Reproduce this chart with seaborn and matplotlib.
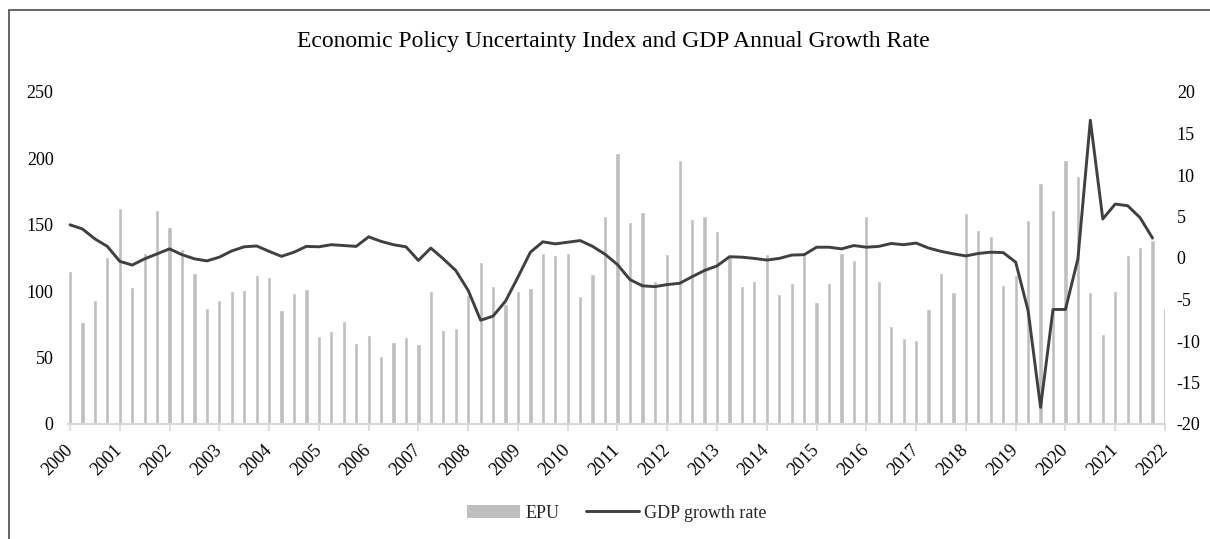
import numpy as np
import pandas as pd
import matplotlib
matplotlib.use("Agg")
import matplotlib.pyplot as plt
import matplotlib.patches as mpatches
import matplotlib.transforms as mtransforms
from matplotlib.lines import Line2D
import seaborn as sns

# Quarterly periods, 2000Q1 .. 2022Q1
quarters = pd.period_range("2000Q1", "2022Q1", freq="Q").astype(str).tolist()

# Economic Policy Uncertainty index, one value per quarter
epu = [
    115, 76.5, 93, 126,
    163, 103, 129, 161,
    148, 132, 114, 87.5,
    93, 100, 101, 112.5,
    111, 85.5, 98.5, 102,
    66.5, 70, 77.5, 61,
    67, 51, 62, 65.5,
    60, 100, 70.5, 72,
    97.5, 122, 104, 90,
    100, 102.5, 129, 127,
    129, 96.5, 113, 157,
    204, 152, 160, 108,
    128, 199, 154.5, 156.5,
    145, 126, 104, 108,
    128, 98, 106, 127,
    92, 106, 128.5, 123.5,
    157, 108, 74, 65,
    63.5, 86.5, 114, 99.5,
    159, 146, 141.5, 104.5,
    112, 153.5, 181.5, 161,
    199, 187, 99.5, 68,
    100.5, 127.5, 133, 138.5,
    87,
]

# GDP annual growth rate (%), 2000Q1 .. 2021Q4
gdp = [
    4.0, 3.5, 2.3, 1.4,
    -0.4, -0.85, -0.1, 0.5,
    1.1, 0.4, -0.1, -0.35,
    0.1, 0.85, 1.35, 1.45,
    0.8, 0.2, 0.7, 1.4,
    1.35, 1.6, 1.5, 1.4,
    2.55, 2.0, 1.6, 1.35,
    -0.3, 1.2, -0.1, -1.5,
    -3.9, -7.5, -7.0, -5.2,
    -2.3, 0.7, 1.95, 1.7,
    1.9, 2.1, 1.4, 0.45,
    -0.8, -2.6, -3.35, -3.45,
    -3.2, -3.05, -2.25, -1.5,
    -0.95, 0.15, 0.1, -0.05,
    -0.25, -0.05, 0.35, 0.4,
    1.3, 1.3, 1.1, 1.5,
    1.3, 1.4, 1.75, 1.6,
    1.8, 1.2, 0.8, 0.5,
    0.25, 0.55, 0.7, 0.65,
    -0.5, -6.35, -18.0, -6.2,
    -6.2, -0.1, 16.6, 4.7,
    6.5, 6.3, 4.85, 2.4,
]

year_labels = [str(y) for y in range(2000, 2023)]
left_ticks = [0, 50, 100, 150, 200, 250]
right_ticks = [-20, -15, -10, -5, 0, 5, 10, 15, 20]

title = "Economic Policy Uncertainty Index and GDP Annual Growth Rate"

BAR = "#bfbfbf"
LINE = "#404040"
AXIS = "#d9d9d9"
TEXT = "#000000"

sns.set_theme(style="white")
plt.rcParams["font.family"] = ["Liberation Serif", "DejaVu Serif"]
plt.rcParams["axes.unicode_minus"] = False

df_epu = pd.DataFrame({"quarter": quarters, "t": np.arange(len(epu)), "EPU": epu})
df_gdp = pd.DataFrame({"quarter": quarters[:len(gdp)], "t": np.arange(len(gdp)), "GDP": gdp})

W, H = 1210, 539
fig = plt.figure(figsize=(W / 100, H / 100), dpi=100)

x0_px, xend_px = 70.0, 1165.0
unit = (xend_px - x0_px) / (len(epu) - 1)
xmin = -0.15
left_px = x0_px + xmin * unit
base_px, top_px = 424.0, 92.0
ax = fig.add_axes([left_px / W, 1 - base_px / H,
                   (xend_px - left_px) / W, (base_px - top_px) / H])

sns.barplot(data=df_epu, x="t", y="EPU", native_scale=True, width=0.34,
            color=BAR, saturation=1, errorbar=None, ax=ax, zorder=2)

ax2 = ax.twinx()
sns.lineplot(data=df_gdp, x="t", y="GDP", color=LINE, linewidth=2.1, ax=ax2)

ax.set_xlim(xmin, len(epu) - 1)
ax.set_ylim(0, 250)
ax2.set_ylim(-20, 20)

ax.set_xticks(np.arange(0, len(epu), 4))
ax.set_xticklabels(year_labels, rotation=45, ha="right", va="center",
                   rotation_mode="anchor", fontsize=13, color=TEXT)
shift = mtransforms.ScaledTranslation(3 / 100, 0, fig.dpi_scale_trans)
for lab in ax.get_xticklabels():
    lab.set_transform(lab.get_transform() + shift)
ax.set_yticks(left_ticks)
ax.set_yticklabels([str(v) for v in left_ticks], fontsize=13, color=TEXT)
ax2.set_yticks(right_ticks)
ax2.set_yticklabels([str(v) for v in right_ticks], fontsize=13, color=TEXT)

ax.tick_params(axis="x", length=5, width=1.2, color=AXIS, pad=12, bottom=True)
ax.tick_params(axis="y", length=0, pad=10.5)
ax2.tick_params(axis="y", length=0, pad=8.5)
for a in (ax, ax2):
    a.set_xlabel("")
    a.set_ylabel("")
    for s in ("top", "left", "right", "bottom"):
        a.spines[s].set_visible(False)
ax.spines["bottom"].set_visible(True)
ax.spines["bottom"].set_color(AXIS)
ax.spines["bottom"].set_linewidth(1.5)
ax.grid(False)
ax2.grid(False)
ax.patch.set_alpha(0)

fig.text(613 / W, 1 - 41 / H, title, ha="center", va="center",
         fontsize=17, color=TEXT)

handles = [mpatches.Patch(facecolor=BAR, edgecolor="none", label="EPU"),
           Line2D([], [], color=LINE, linewidth=2.1, label="GDP growth rate")]
fig.legend(handles=handles, loc="center", bbox_to_anchor=(617 / W, 1 - 513 / H),
           ncol=2, frameon=False, fontsize=13, handlelength=2.9,
           handletextpad=0.3, columnspacing=1.5)

# chart outline
fig.patches.append(mpatches.Rectangle((9 / W, -0.1), 1.2, 1 - 10 / H + 0.1,
                                      transform=fig.transFigure, fill=False,
                                      edgecolor="#595959", linewidth=1.3))

fig.savefig("out.png", dpi=100)
